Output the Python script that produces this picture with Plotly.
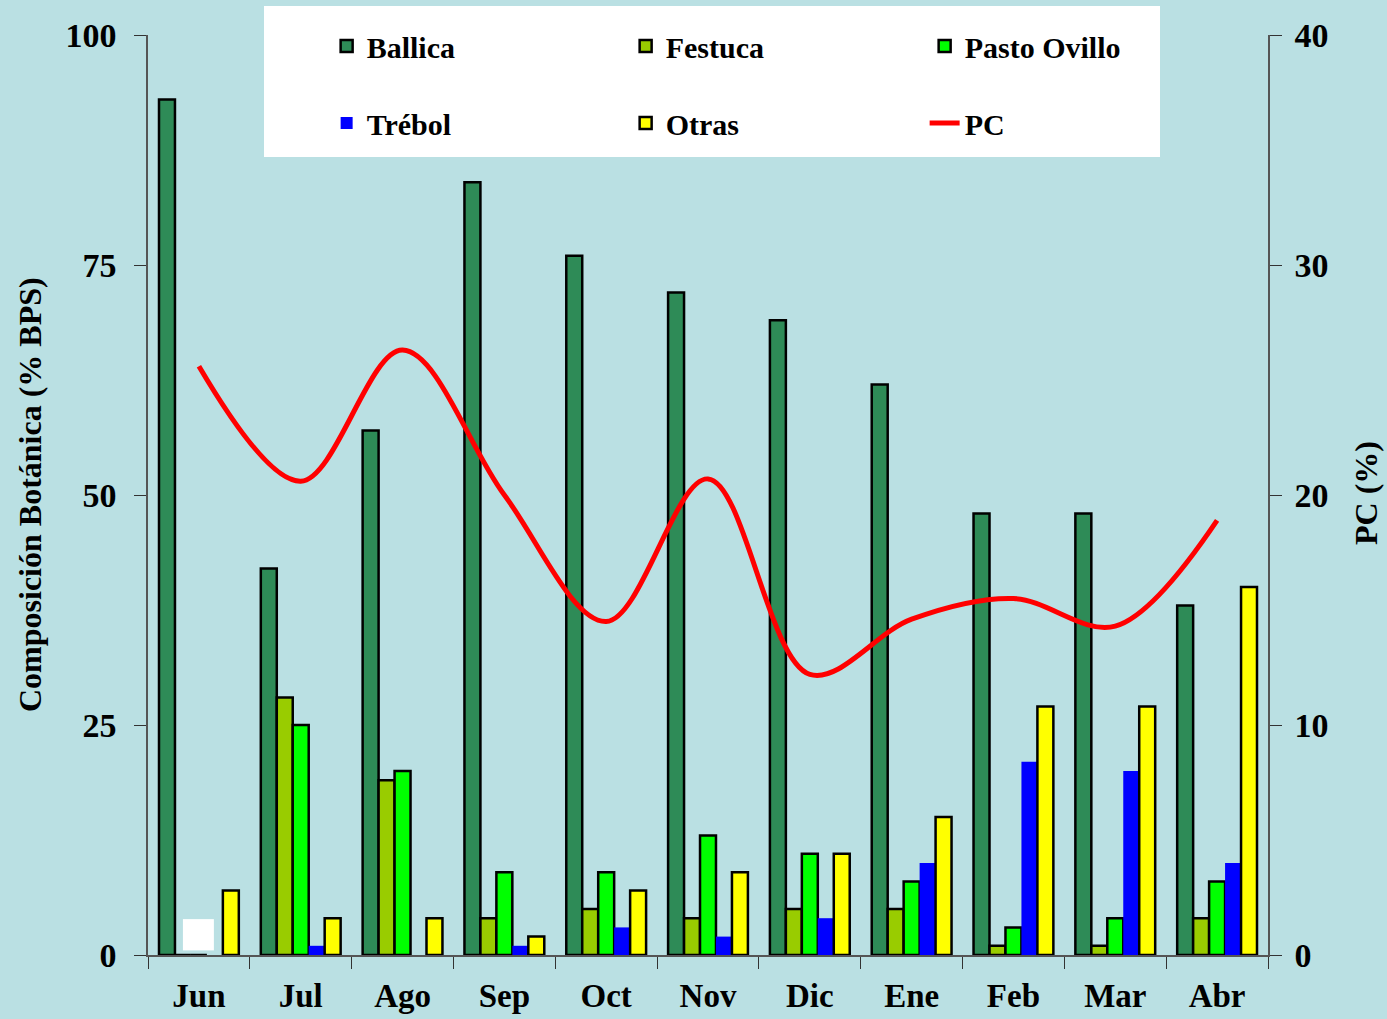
import plotly.graph_objects as go

months = ["Jun", "Jul", "Ago", "Sep", "Oct", "Nov", "Dic", "Ene", "Feb", "Mar", "Abr"]
ballica = [93, 42, 57, 84, 76, 72, 69, 62, 48, 48, 38]
festuca = [0, 28, 19, 4, 5, 4, 5, 5, 1, 1, 4]
pasto_ovillo = [0, 25, 20, 9, 9, 13, 11, 8, 3, 4, 8]
trebol = [0, 1, 0, 1, 3, 2, 4, 10, 21, 20, 10]
otras = [7, 4, 4, 2, 7, 9, 11, 15, 27, 27, 40]
pc = [25.6, 20.6, 26.3, 20.0, 14.5, 20.7, 12.2, 14.6, 15.5, 14.3, 18.9]

BG = "#BAE0E3"
FONT = "Liberation Serif"

fig = go.Figure()
series = [
    ("Ballica", ballica, "#2E8B57", 2.5, "legend"),
    ("Festuca", festuca, "#99CC00", 2.5, "legend"),
    ("Pasto Ovillo", pasto_ovillo, "#00FF00", 2.5, "legend"),
    ("Trébol", trebol, "#0000FF", 0, "legend2"),
    ("Otras", otras, "#FFFF00", 2.5, "legend2"),
]
for name, vals, col, lw, lg in series:
    fig.add_trace(go.Bar(
        x=months, y=vals, name=name, legend=lg,
        marker=dict(color=col, line=dict(color="black", width=lw)),
    ))

fig.add_trace(go.Scatter(
    x=months, y=pc, name="PC", yaxis="y2", mode="lines", legend="legend2",
    line=dict(color="#FF0000", width=5, shape="spline", smoothing=1.0),
))

legend_common = dict(
    orientation="h", xanchor="left", yanchor="middle",
    entrywidth=254, entrywidthmode="pixels",
    bgcolor="rgba(0,0,0,0)",
    font=dict(family=FONT, size=30, color="black", weight="bold"),
    traceorder="normal",
)

title_font = dict(family=FONT, size=32, color="black", weight="bold")

fig.update_layout(
    width=1387, height=1019,
    paper_bgcolor=BG, plot_bgcolor=BG,
    margin=dict(l=148, r=119, t=35, b=64, autoexpand=False),
    barmode="group", bargap=0.216, bargroupgap=0,
    showlegend=True,
    legend=dict(x=0.1595, y=(955 - 46) / 920, **legend_common),
    legend2=dict(x=0.1595, y=(955 - 123) / 920, **legend_common),
    font=dict(family=FONT, color="black", weight="bold"),
    xaxis=dict(
        type="category", showline=True, linecolor="#555555", linewidth=1.5,
        ticks="outside", tickson="boundaries", ticklen=12, tickcolor="#333333",
        tickfont=dict(family=FONT, size=33, color="black", weight="bold"),
        ticklabelstandoff=11, automargin=False,
        showgrid=False, mirror=False,
    ),
    yaxis=dict(
        range=[0, 100], tickvals=[0, 25, 50, 75, 100],
        showline=True, linecolor="#555555", linewidth=1.5,
        ticks="outside", ticklen=12, tickcolor="#333333",
        tickfont=dict(family=FONT, size=34, color="black", weight="bold"),
        ticklabelstandoff=11, automargin=False,
        showgrid=False, zeroline=False,
    ),
    yaxis2=dict(
        range=[0, 40], tickvals=[0, 10, 20, 30, 40], overlaying="y", side="right",
        showline=True, linecolor="#555555", linewidth=1.5,
        ticks="outside", ticklen=12, tickcolor="#333333",
        tickfont=dict(family=FONT, size=34, color="black", weight="bold"),
        ticklabelstandoff=6, automargin=False,
        showgrid=False, zeroline=False,
    ),
    annotations=[
        dict(text="Composición Botánica (% BPS)", xref="paper", yref="paper",
             x=(30 - 148) / 1120, y=(955 - 495) / 920, xanchor="center", yanchor="middle",
             textangle=-90, showarrow=False, font=title_font),
        dict(text="PC (%)", xref="paper", yref="paper",
             x=(1366 - 148) / 1120, y=(955 - 493) / 920, xanchor="center", yanchor="middle",
             textangle=-90, showarrow=False, font=title_font),
    ],
    shapes=[
        dict(type="rect", xref="paper", yref="paper",
             x0=(264 - 148) / 1120, x1=(1160 - 148) / 1120,
             y0=(955 - 157) / 920, y1=(955 - 6) / 920,
             fillcolor="white", line=dict(width=0), layer="above"),
        dict(type="rect", xref="x", yref="y",
             x0=-0.157, x1=0.147, y0=0.5, y1=3.9,
             fillcolor="white", line=dict(width=0), layer="above"),
    ],
)

fig.write_html(
    "out.html",
    config={"displayModeBar": False},
    post_script="document.body.style.margin='0';document.body.style.background='%s';"
                "document.body.style.overflow='hidden';" % BG,
)
